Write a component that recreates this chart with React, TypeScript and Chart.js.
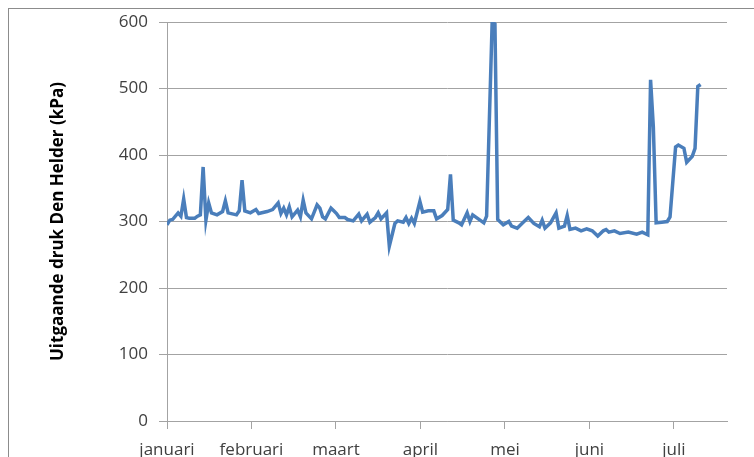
import { useEffect, useRef } from 'react';
import { Chart, registerables } from 'chart.js';

Chart.register(...registerables);

// Month tick labels (one tick per month start)
const months = ['januari', 'februari', 'maart', 'april', 'mei', 'juni', 'juli'];
const DAYS_PER_MONTH = 30.4;
const X_MAX_DAYS = 201.5;

// Day index (from 1 januari) and outgoing pressure in kPa
const days = [
  0, 1, 2, 4, 5, 6, 7, 8, 10, 11,
  12, 13, 14, 15, 16, 18, 20, 21, 22, 25,
  26, 27, 28, 30, 32, 33, 36, 38, 40, 41,
  42, 43, 44, 45, 47, 48, 49, 50, 52, 54,
  55, 56, 57, 59, 60, 61, 62, 64, 65, 67,
  69, 70, 72, 73, 75, 76, 77, 79, 80, 82,
  83, 85, 86, 87, 88, 89, 91, 92, 94, 96,
  97, 99, 101, 102, 103, 105, 106, 108, 109, 110,
  112, 114, 115, 117, 118, 119, 121, 123, 124, 126,
  128, 130, 132, 134, 135, 136, 138, 140, 141, 143,
  144, 145, 147, 149, 151, 153, 155, 157, 158, 159,
  161, 163, 166, 169, 171, 173, 174, 175, 176, 178,
  180, 181, 183, 184, 186, 187, 189, 190, 191, 192,
];

const pressure = [
  295, 302, 303, 313, 308, 334, 306, 305, 305, 308,
  310, 382, 302, 328, 313, 310, 315, 331, 313, 310,
  316, 362, 316, 313, 318, 312, 315, 318, 328, 312,
  320, 310, 322, 307, 317, 307, 332, 313, 304, 325,
  320, 307, 304, 320, 316, 312, 306, 306, 303, 301,
  311, 301, 311, 299, 306, 313, 304, 313, 263, 297,
  301, 299, 306, 297, 305, 297, 330, 314, 316, 316,
  304, 309, 318, 371, 302, 298, 295, 313, 300, 310,
  304, 298, 308, 600, 597, 303, 295, 300, 293, 290,
  298, 306, 297, 292, 302, 290, 298, 313, 290, 293,
  309, 288, 290, 286, 289, 286, 278, 286, 288, 284,
  286, 282, 284, 281, 284, 280, 513, 442, 298, 299,
  300, 307, 412, 415, 410, 389, 398, 410, 503, 506,
];

const yTicks = [0, 100, 200, 300, 400, 500, 600];
const yTitle = 'Uitgaande druk Den Helder (kPa)';

export default function App() {
  const ref = useRef<HTMLCanvasElement>(null);

  useEffect(() => {
    const canvas = ref.current;
    if (!canvas) return;
    const gridColor = '#a3a3a3';
    const tickFont = { family: '"Open Sans", sans-serif', size: 17 };
    const chart = new Chart(canvas, {
      type: 'line',
      data: {
        datasets: [
          {
            data: days.map((d, i) => ({ x: d, y: pressure[i] })),
            borderColor: '#4a7ebb',
            borderWidth: 3.5,
            pointRadius: 0,
            tension: 0,
            fill: false,
          },
        ],
      },
      options: {
        responsive: false,
        animation: false,
        devicePixelRatio: 1,
        layout: { padding: { left: 30, right: 27, top: 13, bottom: 0 } },
        plugins: { legend: { display: false }, tooltip: { enabled: false } },
        scales: {
          x: {
            type: 'linear',
            min: 0,
            max: X_MAX_DAYS,
            afterBuildTicks: (s: any) => {
              s.ticks = months.map((_, i) => ({ value: i * DAYS_PER_MONTH }));
            },
            afterFit: (s: any) => {
              s.height = 36;
              s.paddingLeft = 0;
              s.paddingRight = 0;
            },
            ticks: {
              autoSkip: false,
              maxRotation: 0,
              padding: 11,
              color: '#404040',
              font: tickFont,
              callback: (_v: any, i: number) => months[i],
            },
            grid: {
              drawOnChartArea: false,
              drawTicks: true,
              tickLength: 8,
              color: gridColor,
            },
            border: { color: gridColor, width: 1 },
          },
          y: {
            min: 0,
            max: 600,
            afterBuildTicks: (s: any) => {
              s.ticks = yTicks.map((v) => ({ value: v }));
            },
            afterFit: (s: any) => {
              s.width = 128;
              s.paddingTop = 0;
              s.paddingBottom = 0;
            },
            ticks: {
              padding: 11,
              color: '#404040',
              font: tickFont,
            },
            grid: {
              color: gridColor,
              lineWidth: 1,
              drawTicks: true,
              tickLength: 8,
            },
            border: { color: gridColor, width: 1 },
            title: {
              display: true,
              text: yTitle,
              color: '#000000',
              font: { family: '"Open Sans", sans-serif', size: 17, weight: 'bold' },
              padding: { top: 9, bottom: 0 },
            },
          },
        },
      },
    } as any);
    return () => chart.destroy();
  }, []);

  return (
    <div
      style={{
        position: 'absolute',
        left: 8,
        top: 8,
        width: 746,
        height: 449,
        borderTop: '1px solid #8c8c8c',
        borderLeft: '1px solid #8c8c8c',
        overflow: 'hidden',
        background: '#ffffff',
      }}
    >
      <canvas ref={ref} width={745} height={448} style={{ display: 'block', width: 745, height: 448 }} />
    </div>
  );
}
